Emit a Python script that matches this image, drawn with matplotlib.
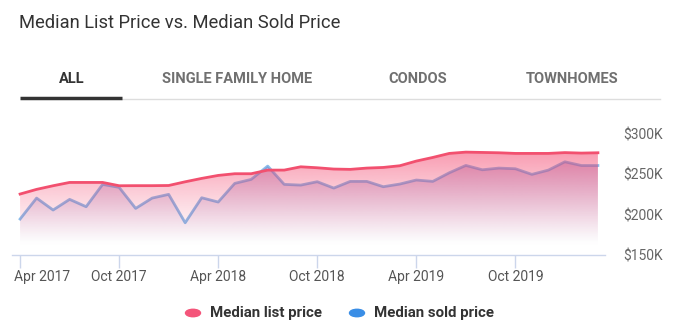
import numpy as np
import matplotlib
import matplotlib.pyplot as plt
from matplotlib.patches import Polygon, Circle
from matplotlib.lines import Line2D
from matplotlib.transforms import ScaledTranslation

plt.rcParams['font.family'] = ['Roboto', 'DejaVu Sans']

# monthly values, Apr 2017 .. Mar 2020, in $K
list_price = [225.6, 231.4, 235.9, 240, 240, 240, 235.9, 236, 236, 236.2, 240.8, 245,
              248.7, 250.8, 250.8, 255.3, 255.3, 259.4, 258.2, 256.6, 256.2, 257.8, 258.6, 260.7,
              266.5, 271, 276, 277.6, 277.2, 276.8, 276, 276, 276, 277, 276.4, 276.8]
sold_price = [194.6, 220.6, 205.8, 219, 209.9, 237.6, 233.9, 207.8, 220.6, 225.2, 190, 221,
              215.7, 238.8, 243.8, 260.3, 237.6, 236.7, 240.9, 233, 241.3, 241.3, 234.7, 238,
              243, 241.3, 252, 261.1, 255.7, 257.8, 257, 250, 255.3, 265.6, 261, 261]
tick_pos = [0, 6, 12, 18, 24, 30]
tick_labels = ['Apr 2017', 'Oct 2017', 'Apr 2018', 'Oct 2018', 'Apr 2019', 'Oct 2019']
y_ticks = [150, 200, 250, 300]
y_labels = ['$150K', '$200K', '$250K', '$300K']
tabs = ['ALL', 'SINGLE FAMILY HOME', 'CONDOS', 'TOWNHOMES']

RED = '#f2506f'
BLUE = '#3f8fdc'
W, H = 674, 334


def gradient_fill(ax, x, y, color, a_top, y_top, y_fade, zorder):
    rgb = matplotlib.colors.to_rgb(color)
    n = 300
    yv = np.linspace(y_top, 150, n)
    img = np.zeros((n, 1, 4))
    img[:, 0, :3] = rgb
    img[:, 0, 3] = a_top * np.clip((yv - y_fade) / (y_top - y_fade), 0, 1) ** 1.2
    im = ax.imshow(img, aspect='auto', extent=[x[0], x[-1], 150, y_top],
                   origin='upper', zorder=zorder, interpolation='bilinear')
    verts = [(x[0], 150)] + list(zip(x, y)) + [(x[-1], 150)]
    poly = Polygon(verts, closed=True, facecolor='none', edgecolor='none')
    ax.add_patch(poly)
    im.set_clip_path(poly)


fig = plt.figure(figsize=(W / 100, H / 100), dpi=100)
ax = fig.add_axes([12 / W, 1 - 255 / H, 593 / W, (255 - 126) / H])

x = np.arange(len(list_price))
gradient_fill(ax, x, sold_price, '#8a5aa8', 0.42, 268, 160, 1)
ax.plot(x, sold_price, color=BLUE, lw=2, alpha=0.6, zorder=2)
gradient_fill(ax, x, list_price, '#f4466e', 0.55, 280, 165, 3)
ax.plot(x, list_price, color=RED, lw=2, zorder=4)

ax.set_xlim(-0.49, 35.43)
ax.set_ylim(150, 310)
for s in ['top', 'right', 'left']:
    ax.spines[s].set_visible(False)
ax.spines['bottom'].set_color('#ccd6eb')
ax.spines['bottom'].set_linewidth(1)
ax.set_xticks(tick_pos)
ax.set_xticklabels(tick_labels, fontsize=10, color='#555555')
ax.tick_params(axis='x', length=9, color='#ccd6eb', width=1, pad=2)
first = ax.get_xticklabels()[0]
first.set_horizontalalignment('left')
first.set_transform(first.get_transform() + ScaledTranslation(-6 / 100, 0, fig.dpi_scale_trans))
ax.yaxis.tick_right()
ax.set_yticks(y_ticks)
ax.set_yticklabels(y_labels, fontsize=10, color='#666666')
ax.tick_params(axis='y', length=0, pad=13)

# title and tabs
fig.text(19 / W, 1 - 23 / H, 'Median List Price vs. Median Sold Price',
         fontsize=13.2, color='#333333', va='center', ha='left')
tab_x = [72, 237, 418, 572]
for i, (t, tx) in enumerate(zip(tabs, tab_x)):
    fig.text(tx / W, 1 - 79 / H, t, fontsize=10.5, fontweight='bold',
             color='#333333' if i == 0 else '#707070', ha='center', va='center')
fig.add_artist(Line2D([122 / W, 660 / W], [1 - 99 / H, 1 - 99 / H], color='#dddddd', lw=1))
fig.add_artist(Line2D([20 / W, 122 / W], [1 - 98 / H, 1 - 98 / H], color='#333333', lw=2.5,
                      solid_capstyle='butt'))

# legend
ly = 1 - 313 / H
for cx, col, lab in [(193, '#f4557a', 'Median list price'), (357, '#3a8ee6', 'Median sold price')]:
    fig.add_artist(Circle((cx / W, ly), 7.5 / W, color=col,
                          transform=fig.transFigure))
    fig.text((cx + 17) / W, ly, lab, fontsize=10.8, fontweight='bold', color='#333333',
             ha='left', va='center')

fig.savefig('out.png', dpi=100)
